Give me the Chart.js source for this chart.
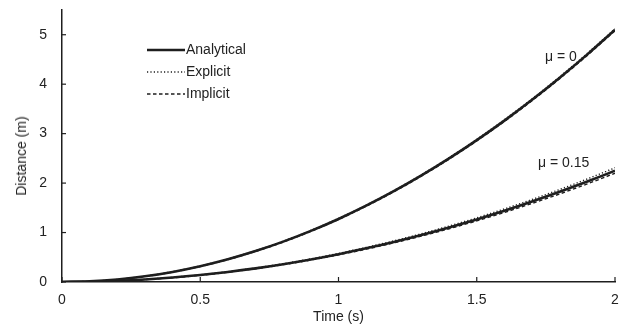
<!DOCTYPE html>
<html>
<head>
<meta charset="utf-8">
<script src="https://cdn.jsdelivr.net/npm/chart.js@4/dist/chart.umd.min.js"></script>
<style>
  html, body { margin: 0; padding: 0; background: #fff; }
  #wrap { position: relative; width: 630px; height: 326px; }
  canvas { position: absolute; left: 0; top: 0; }
  .lbl { position: absolute; font-family: "Liberation Sans", Arial, sans-serif; font-size: 14px; color: #222; white-space: nowrap; line-height: 1; }
</style>
</head>
<body>
<div id="wrap">
  <canvas id="c" width="630" height="326"></canvas>
  <div class="lbl" style="left:186px; top:42px;">Analytical</div>
  <div class="lbl" style="left:186px; top:64px;">Explicit</div>
  <div class="lbl" style="left:186px; top:86px;">Implicit</div>
  <div class="lbl" style="left:545px; top:49px;">μ = 0</div>
  <div class="lbl" style="left:538px; top:155px;">μ = 0.15</div>
  <div class="lbl" style="left:21px; top:156px; transform: translate(-50%,-50%) rotate(-90deg);">Distance (m)</div>
</div>
<script>
const timeValues = [0,0.1,0.2,0.3,0.4,0.5,0.6,0.7,0.8,0.9,1.0,1.1,1.2,1.3,1.4,1.5,1.6,1.7,1.8,1.9,2.0];

const analyticalMu0 = [0,0.013,0.051,0.115,0.204,0.319,0.459,0.625,0.816,1.033,1.275,1.543,1.836,2.155,2.499,2.869,3.264,3.685,4.131,4.603,5.100];
const explicitMu0   = [0,0.015,0.054,0.119,0.209,0.325,0.466,0.633,0.825,1.043,1.286,1.555,1.849,2.169,2.514,2.885,3.281,3.703,4.150,4.623,5.121];
const implicitMu0   = [0,0.011,0.048,0.111,0.199,0.313,0.452,0.617,0.807,1.023,1.264,1.531,1.823,2.141,2.484,2.853,3.247,3.667,4.112,4.583,5.079];

const analyticalMu15 = [0,0.006,0.023,0.051,0.090,0.141,0.203,0.276,0.360,0.456,0.563,0.681,0.810,0.951,1.103,1.266,1.440,1.626,1.823,2.031,2.250];
const explicitMu15   = [0,0.007,0.025,0.054,0.094,0.146,0.209,0.284,0.370,0.468,0.578,0.699,0.832,0.976,1.132,1.299,1.478,1.669,1.871,2.084,2.310];
const implicitMu15   = [0,0.005,0.021,0.048,0.086,0.136,0.197,0.269,0.351,0.445,0.549,0.665,0.791,0.929,1.077,1.237,1.407,1.589,1.781,1.984,2.199];

const xTicks = [0,0.5,1,1.5,2];
const yTicks = [0,1,2,3,4,5];
const legendLabels = ["Analytical","Explicit","Implicit"];

const INK = '#1e1e1e';
const FONT = '"Liberation Sans", Arial, sans-serif';
const pts = arr => arr.map((v,i) => ({x: timeValues[i], y: v}));

function mk(label, arr, style) {
  const base = { label, data: pts(arr), borderColor: INK, pointRadius: 0, fill: false, cubicInterpolationMode: 'monotone' };
  if (style === 'solid') { base.borderWidth = 2.6; }
  if (style === 'dot') { base.borderWidth = 1.4; base.borderDash = [1.2, 2.2]; }
  if (style === 'dash') { base.borderWidth = 1.4; base.borderDash = [3.5, 2.5]; }
  return base;
}

const tickPlugin = {
  id: 'inTicks',
  afterDraw(chart) {
    const ctx = chart.ctx, xs = chart.scales.x, ys = chart.scales.y;
    ctx.save();
    ctx.strokeStyle = INK; ctx.lineWidth = 1.2;
    xTicks.forEach(v => { const px = xs.getPixelForValue(v); ctx.beginPath(); ctx.moveTo(px, ys.bottom); ctx.lineTo(px, ys.bottom - 5); ctx.stroke(); });
    yTicks.forEach(v => { const py = ys.getPixelForValue(v); ctx.beginPath(); ctx.moveTo(xs.left, py); ctx.lineTo(xs.left + 4, py); ctx.stroke(); });
    const styles = [[2.6, []], [1.4, [1.2, 2.2]], [1.4, [3.5, 2.5]]];
    const ys0 = [50, 72, 94];
    styles.forEach((s, i) => {
      ctx.lineWidth = s[0]; ctx.setLineDash(s[1]);
      ctx.beginPath(); ctx.moveTo(147, ys0[i]); ctx.lineTo(185, ys0[i]); ctx.stroke();
    });
    ctx.restore();
  }
};

new Chart(document.getElementById('c'), {
  type: 'line',
  data: {
    datasets: [
      mk(legendLabels[0] + ' μ=0', analyticalMu0, 'solid'),
      mk(legendLabels[1] + ' μ=0', explicitMu0, 'dot'),
      mk(legendLabels[2] + ' μ=0', implicitMu0, 'dash'),
      mk(legendLabels[0] + ' μ=0.15', analyticalMu15, 'solid'),
      mk(legendLabels[1] + ' μ=0.15', explicitMu15, 'dot'),
      mk(legendLabels[2] + ' μ=0.15', implicitMu15, 'dash')
    ]
  },
  options: {
    responsive: false,
    animation: false,
    layout: { padding: { top: 0, right: 15, left: 0, bottom: 0 } },
    plugins: { legend: { display: false }, tooltip: { enabled: false } },
    scales: {
      x: {
        type: 'linear', min: 0, max: 2,
        afterBuildTicks: s => { s.ticks = xTicks.map(v => ({value: v})); },
        afterFit: s => { s.height = 44; s.paddingRight = 15; s.paddingLeft = 0; },
        grid: { display: true, drawOnChartArea: false, drawTicks: false },
        border: { display: true, color: INK, width: 1.5 },
        ticks: { color: '#222', padding: 10, font: { family: FONT, size: 14 }, maxRotation: 0, callback: v => String(v) },
        title: { display: true, text: 'Time (s)', color: '#222', padding: { top: 0, bottom: 0 }, font: { family: FONT, size: 14 } }
      },
      y: {
        min: 0, max: 5.5,
        afterBuildTicks: s => { s.ticks = yTicks.map(v => ({value: v})); },
        afterFit: s => { s.width = 62; s.paddingTop = 10; s.paddingBottom = 0; },
        grid: { display: true, drawOnChartArea: false, drawTicks: false },
        border: { display: true, color: INK, width: 1.5 },
        ticks: { color: '#222', padding: 15, font: { family: FONT, size: 14 }, callback: v => String(v) }
      }
    }
  },
  plugins: [tickPlugin]
});
</script>
</body>
</html>
